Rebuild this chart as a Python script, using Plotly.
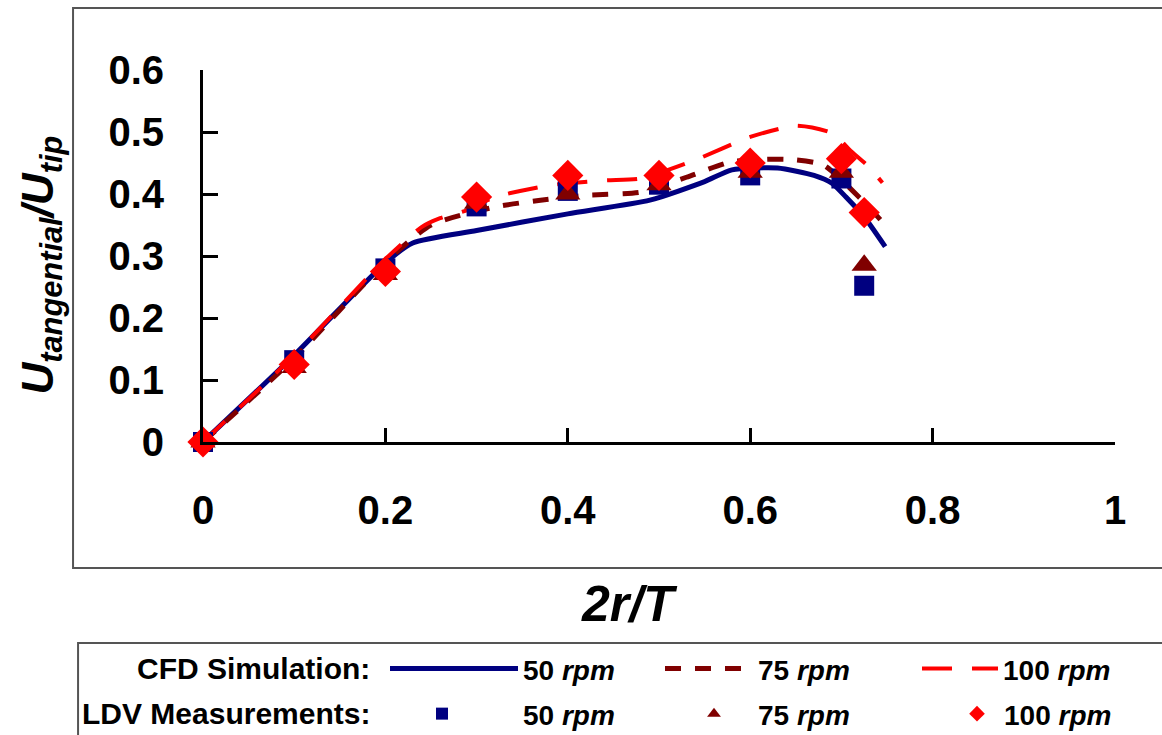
import plotly.graph_objects as go

# ---- data ----
x_cfd50 = [0, 0.1, 0.2, 0.23, 0.3, 0.4, 0.49, 0.55, 0.58, 0.63, 0.67, 0.69, 0.705, 0.725, 0.748]
u_cfd50 = [0, 0.14, 0.289, 0.321, 0.341, 0.368, 0.39, 0.42, 0.439, 0.442, 0.43, 0.417, 0.395, 0.363, 0.315]

x_cfd75 = [0, 0.1, 0.2, 0.25, 0.32, 0.37, 0.42, 0.48, 0.53, 0.58, 0.64, 0.68, 0.72, 0.745]
u_cfd75 = [0, 0.135, 0.29, 0.35, 0.379, 0.39, 0.398, 0.403, 0.427, 0.452, 0.456, 0.447, 0.394, 0.355]

x_cfd100 = [0, 0.1, 0.2, 0.24, 0.26, 0.29, 0.32, 0.38, 0.44, 0.48, 0.54, 0.6, 0.65, 0.69, 0.71, 0.73, 0.745]
u_cfd100 = [0, 0.14, 0.295, 0.347, 0.361, 0.374, 0.395, 0.414, 0.422, 0.425, 0.455, 0.492, 0.51, 0.498, 0.47, 0.444, 0.418]

x_ldv = [0, 0.1, 0.2, 0.3, 0.4, 0.5, 0.6, 0.7, 0.725]
u_ldv50 = [0, 0.132, 0.28, 0.38, 0.405, 0.415, 0.43, 0.425, 0.252]
u_ldv75 = [0, 0.12, 0.27, 0.385, 0.40, 0.415, 0.435, 0.435, 0.285]
u_ldv100 = [0, 0.125, 0.275, 0.395, 0.43, 0.43, 0.45, 0.457, 0.37]

x_ticks = [0, 0.2, 0.4, 0.6, 0.8, 1.0]
x_ticktext = ["0", "0.2", "0.4", "0.6", "0.8", "1"]
y_ticks = [0, 0.1, 0.2, 0.3, 0.4, 0.5, 0.6]
y_ticktext = ["0", "0.1", "0.2", "0.3", "0.4", "0.5", "0.6"]

series_names = ["50 <i>rpm</i>", "75 <i>rpm</i>", "100 <i>rpm</i>"]

NAVY = "#000080"
DRED = "#800000"
RED = "#FF0000"
FONT = "Liberation Sans, Arial, sans-serif"

fig = go.Figure()

fig.add_trace(go.Scatter(x=x_cfd50, y=u_cfd50, mode="lines", name=series_names[0],
                         line=dict(color=NAVY, width=5, shape="spline", smoothing=0.6),
                         cliponaxis=False, legend="legend", showlegend=True))
fig.add_trace(go.Scatter(x=x_cfd75, y=u_cfd75, mode="lines", name=series_names[1],
                         line=dict(color=DRED, width=5, dash="16px,14px", shape="spline", smoothing=0.6),
                         cliponaxis=False, legend="legend2", showlegend=True))
fig.add_trace(go.Scatter(x=x_cfd100, y=u_cfd100, mode="lines", name=series_names[2],
                         line=dict(color=RED, width=4, dash="30px,20px", shape="spline", smoothing=0.6),
                         cliponaxis=False, legend="legend3", showlegend=True))

fig.add_trace(go.Scatter(x=x_ldv, y=u_ldv50, mode="markers", name=series_names[0],
                         marker=dict(symbol="square", size=20, color=NAVY),
                         cliponaxis=False, legend="legend4", showlegend=True))
fig.add_trace(go.Scatter(x=x_ldv, y=u_ldv75, mode="markers", name=series_names[1],
                         marker=dict(symbol="triangle-up", size=22, color=DRED),
                         cliponaxis=False, legend="legend5", showlegend=True))
fig.add_trace(go.Scatter(x=x_ldv, y=u_ldv100, mode="markers", name=series_names[2],
                         marker=dict(symbol="diamond", size=24, color=RED),
                         cliponaxis=False, legend="legend6", showlegend=True))

axis_common = dict(showgrid=False, zeroline=False, showline=True, linecolor="black",
                   linewidth=3, ticks="inside", tickwidth=3, tickcolor="black", automargin=False,
                   tickfont=dict(family=FONT, size=40, color="black", weight="bold"))

fig.update_xaxes(range=[0, 1], tickvals=x_ticks, ticktext=x_ticktext, ticklen=14,
                 ticklabelstandoff=31, **axis_common)
fig.update_yaxes(range=[0, 0.6], tickvals=y_ticks, ticktext=y_ticktext, ticklen=15,
                 ticklabelstandoff=28, **axis_common)

# one single-entry legend per key, so each key can sit where the reference has it
PW = 912.0  # plot width in px
def leg(px_left, item_w, y, constant=False):
    d = dict(visible=True, orientation="h", xanchor="left", x=(px_left - 203) / PW,
             yanchor="middle", y=y,
             bgcolor="rgba(0,0,0,0)", borderwidth=0, itemwidth=item_w,
             font=dict(family=FONT, size=28, color="black", weight="bold"),
             itemclick=False, itemdoubleclick=False)
    if constant:
        d["itemsizing"] = "constant"
    return d

ROW1 = -0.610
ROW2 = -0.731

fig.update_layout(
    width=1162, height=735, autosize=False,
    showlegend=True,
    margin=dict(l=203, r=47, t=70, b=293, autoexpand=False),
    paper_bgcolor="white", plot_bgcolor="white",
    font=dict(family=FONT, color="black"),
    legend=leg(385, 128, ROW1),
    legend2=leg(660, 88, ROW1),
    legend3=leg(917, 76, ROW1),
    legend4=leg(361, 152, ROW2, True),
    legend5=leg(670, 78, ROW2, True),
    legend6=leg(950, 44, ROW2, True),
    shapes=[
        dict(type="rect", xref="paper", yref="paper", x0=-0.1425, x1=1.06, y0=-0.339, y1=1.167,
             line=dict(color="#555555", width=2), layer="below"),
        dict(type="rect", xref="paper", yref="paper", x0=-0.137, x1=1.06, y0=-0.82, y1=-0.540,
             line=dict(color="#555555", width=2), layer="below"),
    ],
    annotations=[
        dict(text="<b><i>U<sub>tangential</sub>/U<sub>tip</sub></i></b>", textangle=-90,
             xref="paper", yref="paper", x=-0.178, y=0.476, showarrow=False,
             xanchor="center", yanchor="middle", font=dict(family=FONT, size=44, color="black")),
        dict(text="<b><i>2r/T</i></b>", xref="paper", yref="paper", x=0.468, y=-0.436,
             showarrow=False, xanchor="center", yanchor="middle",
             font=dict(family=FONT, size=50, color="black")),
        dict(text="<b>CFD Simulation:</b>", xref="paper", yref="paper", x=0.1853, y=ROW1,
             showarrow=False, xanchor="right", yanchor="middle",
             font=dict(family=FONT, size=30, color="black")),
        dict(text="<b>LDV Measurements:</b>", xref="paper", yref="paper", x=0.1853, y=ROW2,
             showarrow=False, xanchor="right", yanchor="middle",
             font=dict(family=FONT, size=30, color="black")),
    ],
)

fig.write_html("out.html", config={"displayModeBar": False},
               post_script="document.body.style.margin='0px';")
